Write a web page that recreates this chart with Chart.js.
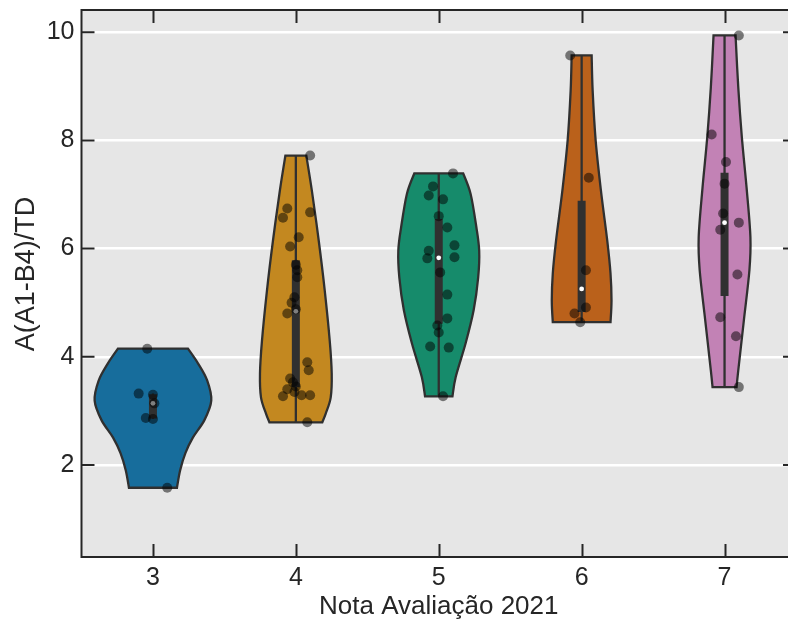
<!DOCTYPE html>
<html>
<head>
<meta charset="utf-8">
<script src="https://cdn.jsdelivr.net/npm/chart.js@4.4.1/dist/chart.umd.min.js"></script>
<style>
  html, body { margin: 0; padding: 0; overflow: hidden; background: #ffffff; }
  canvas { display: block; }
</style>
</head>
<body>
<canvas id="chart" width="801" height="621"></canvas>
<script>
// Grades (x categories) and y tick values
const categories = [3, 4, 5, 6, 7];
const yTicks = [2, 4, 6, 8, 10];

// Observations per grade, with the horizontal jitter of each dot (category units)
const values3 = [4.15, 3.32, 3.30, 3.14, 2.87, 2.85, 1.58];
const jitter3 = [-0.04, -0.10, 0.00, 0.01, -0.05, 0.00, 0.10];

const values4 = [7.72, 6.74, 6.57, 6.67, 6.21, 6.04, 5.47, 5.10, 5.00, 4.88, 4.80, 3.90,
                 3.75, 3.60, 3.53, 3.40, 3.27, 3.29, 3.29, 2.79, 5.70, 5.60, 3.45, 3.35];
const jitter4 = [0.10, -0.06, -0.09, 0.10, 0.02, -0.04, 0.01, -0.01, -0.03, 0.00, -0.06, 0.08,
                 0.09, -0.04, -0.02, -0.06, -0.09, 0.04, 0.10, 0.08, 0.00, 0.01, 0.00, -0.01];

const values5 = [7.39, 7.15, 6.98, 6.91, 6.39, 5.96, 5.82, 6.06, 5.84, 5.56, 5.15, 4.71,
                 4.58, 4.19, 4.17, 3.27, 6.60, 4.45];
const jitter5 = [0.10, -0.04, -0.07, 0.03, 0.06, -0.07, -0.08, 0.11, 0.11, 0.01, 0.06, 0.06,
                 -0.01, -0.06, 0.07, 0.03, 0.00, 0.00];

const values6 = [9.57, 7.31, 5.60, 4.91, 4.80, 4.64];
const jitter6 = [-0.08, 0.05, 0.03, 0.03, -0.05, -0.01];

const values7 = [9.94, 8.11, 6.65, 6.48, 6.35, 5.52, 4.73, 4.38, 3.44, 7.20, 7.60];
const jitter7 = [0.10, -0.09, -0.01, 0.10, -0.03, 0.09, -0.03, 0.08, 0.10, 0.00, 0.01];

// Violin density profiles: levels (top to bottom) and half-width (category units)
const levels3 = [4.15, 3.88, 3.56, 3.19, 2.83, 2.51, 2.22, 1.90, 1.58];
const width3  = [0.245, 0.315, 0.380, 0.408, 0.360, 0.280, 0.227, 0.190, 0.168];

const levels4 = [7.72, 7.07, 6.15, 5.23, 4.30, 3.69, 3.25, 2.95, 2.79];
const width4  = [0.073, 0.112, 0.160, 0.202, 0.237, 0.251, 0.244, 0.209, 0.185];

const levels5 = [7.39, 7.01, 6.40, 5.96, 5.47, 4.86, 4.25, 3.63, 3.27];
const width5  = [0.171, 0.223, 0.263, 0.283, 0.276, 0.244, 0.188, 0.119, 0.096];

const levels6 = [9.57, 8.92, 8.00, 7.07, 6.15, 5.54, 5.04, 4.64];
const width6  = [0.070, 0.077, 0.098, 0.135, 0.179, 0.202, 0.209, 0.202];

const levels7 = [9.94, 8.98, 8.06, 7.13, 6.21, 5.60, 4.67, 3.75, 3.44];
const width7  = [0.077, 0.096, 0.121, 0.154, 0.181, 0.174, 0.135, 0.096, 0.084];

const violinColors = ['#176D9C', '#C38820', '#168B6B', '#BA611B', '#C282B5'];
const lineGray = '#303030';
const textColor = '#262626';
const fontFamily = '"Liberation Sans", Arial, Helvetica, sans-serif';

const groups = [
  { cat: 3, values: values3, jitter: jitter3, levels: levels3, widths: width3 },
  { cat: 4, values: values4, jitter: jitter4, levels: levels4, widths: width4 },
  { cat: 5, values: values5, jitter: jitter5, levels: levels5, widths: width5 },
  { cat: 6, values: values6, jitter: jitter6, levels: levels6, widths: width6 },
  { cat: 7, values: values7, jitter: jitter7, levels: levels7, widths: width7 }
];

function quantile(sorted, q) {
  const pos = (sorted.length - 1) * q;
  const lo = Math.floor(pos), hi = Math.ceil(pos);
  return sorted[lo] + (sorted[hi] - sorted[lo]) * (pos - lo);
}

function boxStats(vals) {
  const s = [...vals].sort((a, b) => a - b);
  const q1 = quantile(s, 0.25), med = quantile(s, 0.5), q3 = quantile(s, 0.75);
  const lim = 1.5 * (q3 - q1);
  const lo = Math.min(...s.filter(v => v >= q1 - lim));
  const hi = Math.max(...s.filter(v => v <= q3 + lim));
  return { q1, med, q3, lo, hi };
}

// Catmull-Rom curve through a list of pixel points (path already at pts[0])
function smoothThrough(ctx, pts) {
  for (let i = 0; i < pts.length - 1; i++) {
    const p0 = pts[i - 1] || pts[i];
    const p1 = pts[i];
    const p2 = pts[i + 1];
    const p3 = pts[i + 2] || pts[i + 1];
    const c1x = p1.x + (p2.x - p0.x) / 6, c1y = p1.y + (p2.y - p0.y) / 6;
    const c2x = p2.x - (p3.x - p1.x) / 6, c2y = p2.y - (p3.y - p1.y) / 6;
    ctx.bezierCurveTo(c1x, c1y, c2x, c2y, p2.x, p2.y);
  }
}

const plotBackground = {
  id: 'plotBackground',
  beforeDraw(chart) {
    const { ctx, chartArea: a } = chart;
    ctx.save();
    ctx.fillStyle = '#E6E6E6';
    ctx.fillRect(a.left, a.top, a.right - a.left, a.bottom - a.top);
    ctx.restore();
  }
};

const violinLayer = {
  id: 'violinLayer',
  beforeDatasetsDraw(chart) {
    const { ctx, chartArea: a, scales: { x, y } } = chart;
    ctx.save();
    ctx.beginPath();
    ctx.rect(a.left, a.top, a.right - a.left, a.bottom - a.top);
    ctx.clip();
    groups.forEach((g, gi) => {
      const left = g.levels.map((v, i) => ({ x: x.getPixelForValue(g.cat - g.widths[i]), y: y.getPixelForValue(v) }));
      const right = g.levels.map((v, i) => ({ x: x.getPixelForValue(g.cat + g.widths[i]), y: y.getPixelForValue(v) })).reverse();
      ctx.beginPath();
      ctx.moveTo(left[0].x, left[0].y);
      smoothThrough(ctx, left);
      ctx.lineTo(right[0].x, right[0].y);
      smoothThrough(ctx, right);
      ctx.closePath();
      ctx.fillStyle = violinColors[gi];
      ctx.fill();
      ctx.lineWidth = 2.3;
      ctx.lineJoin = 'miter';
      ctx.strokeStyle = lineGray;
      ctx.stroke();

      // inner box: whisker, interquartile bar, median
      const st = boxStats(g.values);
      const cx = x.getPixelForValue(g.cat);
      ctx.lineCap = 'butt';
      ctx.strokeStyle = lineGray;
      ctx.lineWidth = 2.3;
      ctx.beginPath();
      ctx.moveTo(cx, y.getPixelForValue(st.lo));
      ctx.lineTo(cx, y.getPixelForValue(st.hi));
      ctx.stroke();
      ctx.lineWidth = 8;
      ctx.beginPath();
      ctx.moveTo(cx, y.getPixelForValue(st.q1));
      ctx.lineTo(cx, y.getPixelForValue(st.q3));
      ctx.stroke();
      ctx.fillStyle = '#ffffff';
      ctx.beginPath();
      ctx.arc(cx, y.getPixelForValue(st.med), 2.4, 0, Math.PI * 2);
      ctx.fill();
    });
    ctx.restore();
  }
};

const frameAndTicks = {
  id: 'frameAndTicks',
  afterDraw(chart) {
    const { ctx, chartArea: a, scales: { x, y } } = chart;
    ctx.save();
    ctx.strokeStyle = textColor;
    ctx.lineWidth = 2;
    ctx.strokeRect(a.left, a.top, a.right - a.left, a.bottom - a.top);
    const len = 13;
    ctx.beginPath();
    x.ticks.forEach(t => {
      const px = Math.round(x.getPixelForValue(t.value)) + 0.5;
      ctx.moveTo(px, a.bottom); ctx.lineTo(px, a.bottom - len);
      ctx.moveTo(px, a.top); ctx.lineTo(px, a.top + len);
    });
    y.ticks.forEach(t => {
      const py = y.getPixelForValue(t.value);
      ctx.moveTo(a.left, py); ctx.lineTo(a.left + len, py);
      ctx.moveTo(a.right, py); ctx.lineTo(a.right - len, py);
    });
    ctx.stroke();

    // vertical axis title
    ctx.fillStyle = textColor;
    ctx.font = '27px ' + fontFamily;
    ctx.textAlign = 'center';
    ctx.textBaseline = 'middle';
    ctx.translate(27, 274);
    ctx.rotate(-Math.PI / 2);
    ctx.fillText('A(A1-B4)/TD', 0, 0);
    ctx.restore();
  }
};

const datasets = groups.map(g => ({
  data: g.values.map((v, i) => ({ x: g.cat + g.jitter[i], y: v })),
  backgroundColor: 'rgba(0,0,0,0.5)',
  borderWidth: 0,
  pointRadius: 5,
  pointHoverRadius: 5
}));

Chart.defaults.font.family = fontFamily;

new Chart(document.getElementById('chart'), {
  type: 'scatter',
  data: { datasets },
  plugins: [plotBackground, violinLayer, frameAndTicks],
  options: {
    responsive: false,
    animation: false,
    devicePixelRatio: 1,
    events: [],
    layout: { padding: { top: 10, right: 2, left: 0, bottom: 0 } },
    plugins: { legend: { display: false }, tooltip: { enabled: false } },
    scales: {
      x: {
        type: 'linear',
        min: 2.5,
        max: 7.5,
        afterBuildTicks(scale) { scale.ticks = categories.map(v => ({ value: v })); },
        afterFit(scale) {
          scale.height = 64;
          scale.paddingLeft = 0; scale.paddingRight = 0;
        },
        grid: { display: false, drawTicks: false },
        border: { display: false },
        ticks: { color: textColor, font: { size: 25 }, padding: 6, maxRotation: 0, autoSkip: false },
        title: {
          display: true,
          text: 'Nota Avaliação 2021',
          color: textColor,
          font: { size: 26, lineHeight: 1 },
          padding: { top: 0, bottom: 1 }
        }
      },
      y: {
        type: 'linear',
        min: 0.3,
        max: 10.41,
        afterBuildTicks(scale) { scale.ticks = yTicks.map(v => ({ value: v })); },
        afterFit(scale) {
          scale.width = 81.5;
          scale.paddingTop = 0; scale.paddingBottom = 0;
        },
        grid: { color: '#ffffff', lineWidth: 2.5, drawTicks: false },
        border: { display: false },
        ticks: { color: textColor, font: { size: 25 }, padding: 7 }
      }
    }
  }
});
</script>
</body>
</html>
